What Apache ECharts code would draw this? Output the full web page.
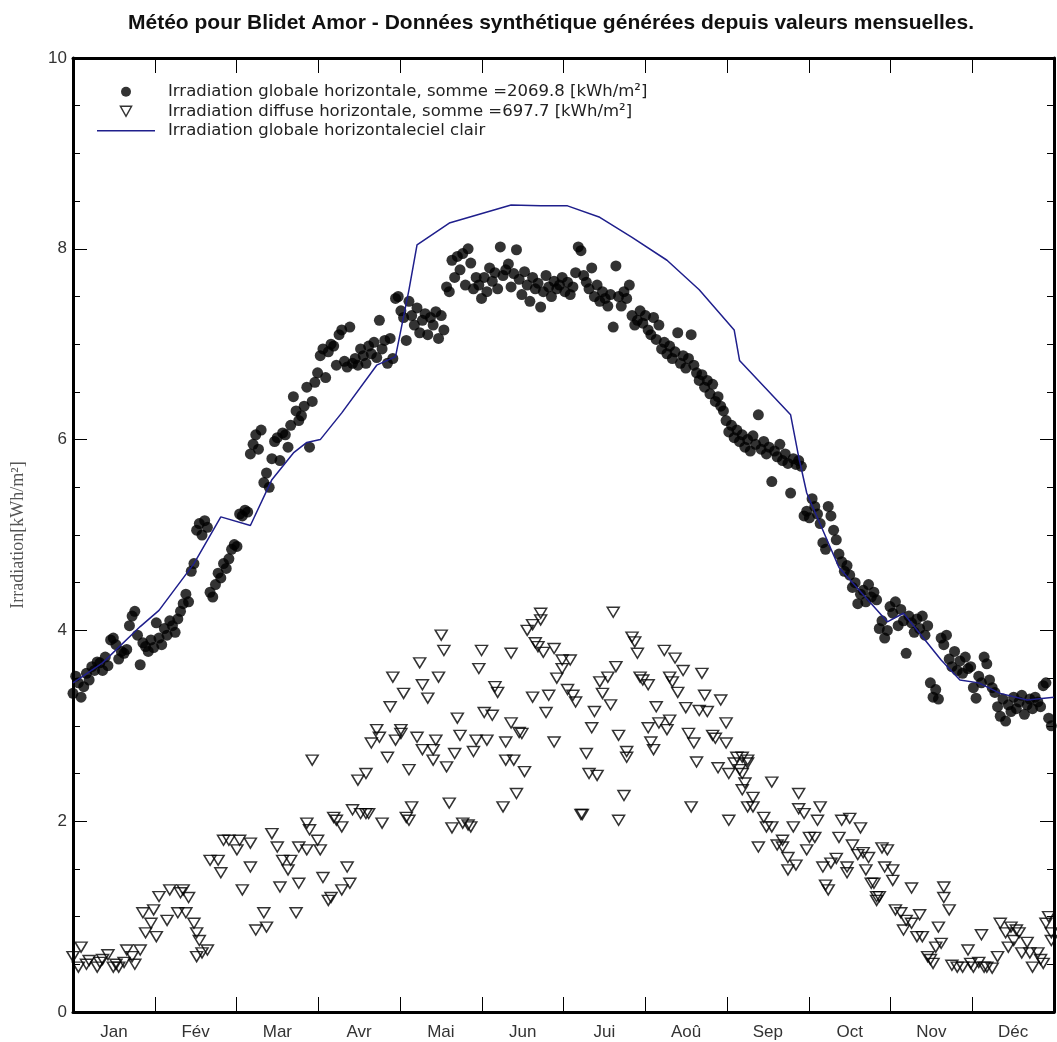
<!DOCTYPE html>
<html><head><meta charset="utf-8">
<script src="https://cdn.jsdelivr.net/npm/echarts@6/dist/echarts.min.js"></script>
<style>html,body{margin:0;padding:0;background:#fff}#c{width:1057px;height:1042px}</style>
</head><body><div id="c"></div>
<script>
const months = ['Jan','Fév','Mar','Avr','Mai','Jun','Jui','Aoû','Sep','Oct','Nov','Déc'];
const yTicks = [0,2,4,6,8,10];
const titleText = 'Météo pour Blidet Amor - Données synthétique générées depuis valeurs mensuelles.';
const nameGlobal = 'Irradiation globale horizontale, somme =2069.8 [kWh/m²]';
const nameDiffuse = 'Irradiation diffuse horizontale, somme =697.7 [kWh/m²]';
const nameClear = 'Irradiation globale horizontaleciel clair';

// daily global horizontal irradiation (day 0..364)
const globalDaily = [
3.34,3.52,3.45,3.30,3.41,3.55,3.48,3.62,3.58,3.67,
3.66,3.58,3.72,3.63,3.90,3.92,3.85,3.70,3.78,3.76,
3.80,4.05,4.15,4.20,3.95,3.64,3.87,3.83,3.78,3.90,3.82,
4.08,3.92,3.85,4.02,3.95,4.10,4.05,3.98,4.12,4.20,4.28,4.38,4.30,4.62,4.70,5.05,5.12,5.00,5.15,5.08,4.40,4.35,4.48,4.60,4.55,4.70,4.65,4.75,
4.85,4.90,4.88,5.22,5.20,5.26,5.24,5.85,5.95,6.05,5.90,6.10,5.55,5.65,5.50,5.80,5.98,6.02,5.78,6.07,6.05,5.92,6.15,6.45,6.30,6.20,6.25,6.35,6.55,5.92,6.40,
6.60,6.70,6.88,6.95,6.65,6.92,7.00,6.98,6.78,7.10,7.15,6.82,6.76,7.18,6.80,6.85,6.78,6.95,6.88,6.80,6.98,6.90,7.02,6.86,7.25,6.95,7.04,6.80,7.06,6.85,
7.48,7.50,7.35,7.28,7.04,7.45,7.30,7.20,7.38,7.12,7.25,7.32,7.10,7.28,7.20,7.34,7.06,7.30,7.15,7.60,7.55,7.88,7.70,7.92,7.78,7.95,7.62,8.00,7.85,7.58,7.70,
7.62,7.48,7.70,7.55,7.80,7.66,7.75,7.58,8.02,7.72,7.78,7.84,7.60,7.74,7.99,7.68,7.52,7.76,7.62,7.45,7.70,7.58,7.64,7.39,7.55,7.72,7.60,7.50,7.66,7.58,
7.62,7.70,7.55,7.65,7.52,7.60,7.75,8.02,7.98,7.72,7.65,7.58,7.80,7.50,7.62,7.45,7.55,7.48,7.40,7.52,7.18,7.82,7.50,7.40,7.55,7.48,7.62,7.30,7.20,7.25,7.35,
7.22,7.30,7.15,7.10,7.28,7.05,7.20,6.95,7.02,6.90,6.98,6.85,6.92,7.12,6.80,6.88,6.75,6.85,7.10,6.78,6.70,6.62,6.68,6.55,6.62,6.48,6.58,6.40,6.45,6.35,6.30,
6.20,6.08,6.15,6.02,6.10,5.98,6.05,5.92,6.00,5.88,6.04,5.95,6.26,5.90,5.98,5.85,5.92,5.56,5.88,5.82,5.95,5.78,5.85,5.75,5.44,5.80,5.74,5.78,5.72,5.20,
5.25,5.18,5.38,5.30,5.22,5.12,4.92,4.85,5.30,5.20,5.05,4.95,4.80,4.72,4.62,4.68,4.58,4.45,4.50,4.28,4.38,4.42,4.30,4.48,4.35,4.40,4.32,4.02,4.10,3.92,4.00,
4.25,4.18,4.30,4.05,4.22,4.10,3.76,4.15,4.08,3.98,4.12,4.02,4.15,3.95,4.05,3.45,3.30,3.38,3.28,3.92,3.85,3.95,3.70,3.62,3.78,3.58,3.68,3.55,3.72,3.60,
3.62,3.40,3.29,3.52,3.45,3.72,3.65,3.48,3.40,3.35,3.20,3.10,3.28,3.05,3.22,3.15,3.30,3.18,3.25,3.32,3.12,3.22,3.28,3.18,3.30,3.25,3.20,3.42,3.45,3.08,3.00
];

// diffuse horizontal irradiation: [day, value]
const diffusePoints = [
[0,0.58],[2,0.47],[3,0.68],[5,0.5],[6,0.54],[9,0.47],[10,0.52],[11,0.55],[13,0.6],[15,0.47],[16,0.5],[17,0.47],[19,0.52],[20,0.65],[22,0.58],[23,0.5],[25,0.65],
[26,1.04],[27,0.83],[29,0.93],[30,1.07],[31,0.79],[32,1.21],[35,0.96],[36,1.28],[39,1.04],[40,1.25],[41,1.28],[42,1.04],[43,1.2],[45,0.93],[46,0.83],[47,0.75],[46,0.58],[48,0.62],[50,0.65],
[51,1.59],[54,1.59],[55,1.46],[56,1.8],[58,1.8],[61,1.7],[62,1.8],[63,1.28],[66,1.77],[66,1.52],[68,0.86],[71,1.04],[72,0.89],[74,1.87],[76,1.73],[77,1.31],[78,1.59],[80,1.49],[81,1.59],[83,1.04],[84,1.35],[84,1.73],[87,1.7],[87,1.98],[88,1.91],[89,2.64],[91,1.8],[92,1.7],[93,1.41],[95,1.17],[96,1.2],[97,2.04],[98,2.01],[100,1.94],[100,1.28],[102,1.52],[103,1.35],
[104,2.12],[107,2.08],[109,2.08],[110,2.08],[106,2.43],[109,2.5],[115,1.98],[111,2.82],[113,2.96],[114,2.88],[117,2.67],[118,3.2],[119,3.51],[120,2.85],[122,2.96],[123,3.34],[124,2.04],[125,2.54],
[122,2.92],[126,2.15],[125,2.01],[128,2.88],[129,3.66],[130,3.43],[132,3.29],[130,2.75],[134,2.75],[134,2.64],[135,2.85],[136,3.51],[137,3.95],[138,3.79],[139,2.57],[140,2.19],[141,1.93],[142,2.71],[143,3.08],[144,2.9],[145,1.98],[147,1.96],[148,1.94],[149,2.73],[150,2.85],
[151,3.6],[152,3.79],[153,3.14],[154,2.85],[156,3.11],[157,3.41],[158,3.35],[160,2.15],[161,2.83],[161,2.64],[163,3.76],[163,3.03],[164,2.64],[165,2.29],[166,2.93],[167,2.92],[168,2.52],[169,4.0],[171,4.06],[172,3.87],[174,4.11],[174,4.18],[171,3.3],[173,3.83],[175,3.77],[176,3.14],[177,3.32],[179,3.81],[179,2.83],[180,3.5],
[182,3.69],[182,3.6],[184,3.38],[185,3.69],[186,3.32],[187,3.25],[189,2.07],[189.5,2.07],[191,2.71],[192,2.5],[193,2.98],[194,3.15],[195,2.48],[196,3.46],[197,3.34],[199,3.51],[200,3.22],[201,4.19],[202,3.62],[203,2.9],[203,2.01],[205,2.27],[206,2.67],[206,2.73],[208,3.93],[209,3.88],[210,3.76],[211,3.51],
[212,3.48],[214,2.98],[214,3.43],[215,2.83],[216,2.75],[217,3.2],[218,3.03],[220,3.79],[221,2.96],[222,3.06],[222,3.51],[223,3.46],[224,3.71],[225,3.35],[227,3.58],[228,3.19],[229,2.92],[230,2.15],[231,2.82],[232,2.62],[233,3.16],[234,3.55],[235,3.32],[236,3.15],[238,2.9],[239,2.87],[240,2.56],[241,3.27],[243,2.82],[243,3.03],
[244,2.01],[244,2.5],[246,2.61],[247,2.67],[248,2.54],[249,2.33],[251,2.61],[251,2.15],[249,2.67],[251,2.64],[249,2.5],[250,2.4],[253,2.25],[253,2.15],[255,1.73],[257,2.04],[258,1.94],[260,1.94],[260,2.41],[262,1.75],[264,1.8],[264,1.73],[266,1.62],[266,1.49],[268,1.94],[269,1.54],[270,2.29],[270,2.13],[272,2.08],
[273,1.7],[274,1.83],[276,1.83],[277,2.01],[278,2.15],[279,1.52],[280,1.33],[281,1.28],[282,1.56],[284,1.61],[285,1.83],[286,2.01],[288,1.52],[288,1.46],[289,2.03],[290,1.75],[292,1.65],[293,1.93],[294,1.67],[295,1.49],[296,1.62],[297,1.35],[298,1.35],[299,1.21],[300,1.21],[299,1.17],[301,1.72],[303,1.7],[302,1.52],
[305,1.49],[305,1.38],[306,1.07],[308,1.04],[309,0.86],[310,0.96],[312,0.93],[312,1.3],[314,0.79],[316,0.79],[315,1.02],[318,0.58],[319,0.55],[320,0.51],[321,0.68],[322,0.89],[323,0.72],[324,1.31],[324,1.2],[326,1.07],[327,0.49],[329,0.47],[331,0.47],[333,0.65],
[334,0.51],[335,0.47],[337,0.52],[338,0.81],[339,0.47],[340,0.47],[342,0.46],[344,0.58],[345,0.93],[347,0.83],[348,0.68],[349,0.89],[350,0.75],[351,0.86],[352,0.83],[353,0.62],[355,0.73],[356,0.62],[357,0.47],[359,0.62],[360,0.55],[361,0.51],[362,0.93],[363,1.0],[364,0.83],[364,0.75]
];

// clear-sky global horizontal irradiation: [day, value]
const clearSkyPoints = [
[0,3.45],[11,3.66],[25,4.04],[32,4.21],[45,4.7],[55,5.19],[66,5.1],[74,5.58],[82,5.86],[87,5.97],[92,6.0],[100,6.28],[113,6.78],[120,6.87],[125,7.57],[128,8.04],
[140,8.27],[163,8.46],[174,8.45],[184,8.45],[196,8.33],[208,8.12],[221,7.88],[233,7.57],[246,7.15],[248,6.83],[267,6.26],[270,5.82],[273,5.44],[285,4.66],
[303,4.09],[309,4.18],[323,3.69],[330,3.48],[337,3.45],[345,3.34],[355,3.27],[365,3.3]
];

const FONT = 'Liberation Sans, Arial, sans-serif';
const LEGEND_FONT = 'DejaVu Sans, Liberation Sans, sans-serif';
const LINE_COLOR = '#1f1f8c';
const chart = echarts.init(document.getElementById('c'), null, {renderer:'canvas'});
const axisLineStyle = {color:'#000', width:3};
const tickStyle = {color:'#000', width:1};
const valueX = (pos) => ({
  type:'value', position:pos, min:0, max:365, interval:365/12,
  axisLine:{show:true, onZero:false, lineStyle:axisLineStyle},
  axisTick:{show:true, inside:true, length:15, lineStyle:tickStyle},
  axisLabel:{show:false}, splitLine:{show:false}
});
const valueY = (pos, labels) => ({
  type:'value', position:pos, min:0, max:10, interval:2,
  axisLine:{show:true, onZero:false, lineStyle:axisLineStyle},
  axisTick:{show:true, inside:true, length:14, lineStyle:tickStyle},
  minorTick:{show:true, splitNumber:4, length:7, lineStyle:tickStyle},
  axisLabel:{show:labels, fontSize:17, color:'#333', fontFamily:FONT, margin:6,
    formatter:(v)=> yTicks.includes(v) ? String(v) : ''},
  splitLine:{show:false}
});

chart.setOption({
  animation:false,
  backgroundColor:'#fff',
  title:{text:titleText, left:123, top:8,
    textStyle:{fontSize:21, fontWeight:'bold', color:'#111', fontFamily:FONT}},
  grid:{left:73, right:3, top:58, bottom:30, containLabel:false},
  legend:{
    orient:'vertical', left:92, top:77, itemWidth:58, itemHeight:10, itemGap:0,
    selectedMode:false,
    textStyle:{fontSize:16.5, lineHeight:19.5, color:'#222', fontFamily:LEGEND_FONT, padding:[0,0,0,8]},
    data:[
      {name:nameGlobal, icon:'circle', itemStyle:{color:'#000'}},
      {name:nameDiffuse, icon:'path://M0,0L10,0L5,9Z', itemStyle:{color:'rgba(0,0,0,0)', borderColor:'#000', borderWidth:1.5}},
      {name:nameClear, icon:'path://M0,0L58,0L58,1.5L0,1.5Z', itemStyle:{color:LINE_COLOR}}
    ]
  },
  xAxis:[
    valueX('bottom'),
    valueX('top'),
    {type:'category', position:'bottom', data:months, boundaryGap:true,
     axisLine:{show:false}, axisTick:{show:false}, splitLine:{show:false},
     axisLabel:{show:true, fontSize:17, color:'#333', fontFamily:FONT, margin:12}}
  ],
  yAxis:[valueY('left', true), valueY('right', false)],
  graphic:[{
    type:'text', x:18, y:535, rotation:Math.PI/2,
    style:{text:'Irradiation[kWh/m²]', fontSize:18, fill:'#555',
      fontFamily:'Liberation Serif, DejaVu Serif, serif', align:'center', verticalAlign:'middle'}
  }],
  series:[
    {name:nameDiffuse, type:'scatter', xAxisIndex:0, yAxisIndex:0, z:2,
     symbol:'triangle', symbolRotate:180, symbolSize:[12,10],
     itemStyle:{color:'rgba(0,0,0,0)', borderColor:'#000', borderWidth:1.5},
     data:diffusePoints},
    {name:nameGlobal, type:'scatter', xAxisIndex:0, yAxisIndex:0, z:3,
     symbol:'circle', symbolSize:11, itemStyle:{color:'#000'},
     data:globalDaily.map((v,i)=>[i,v])},
    {name:nameClear, type:'line', xAxisIndex:0, yAxisIndex:0, z:4,
     symbol:'none', showSymbol:false, lineStyle:{color:LINE_COLOR, width:1.5},
     data:clearSkyPoints}
  ]
});
</script></body></html>
